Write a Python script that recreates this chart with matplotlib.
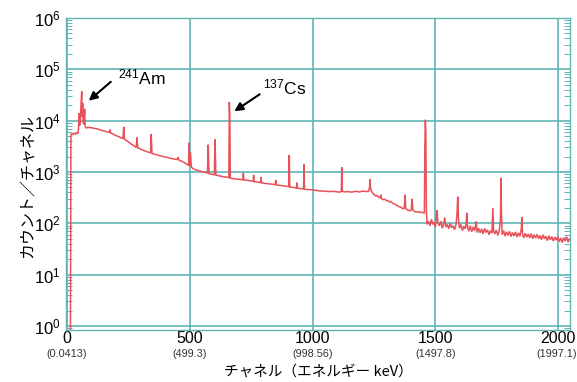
import matplotlib
matplotlib.use("Agg")
import matplotlib.pyplot as plt
from matplotlib.ticker import LogLocator, NullFormatter, FixedLocator
import matplotlib.transforms as mtransforms

plt.rcParams['font.family'] = ['Liberation Sans', 'Noto Sans CJK JP', 'DejaVu Sans']
plt.rcParams['mathtext.fontset'] = 'custom'
plt.rcParams['mathtext.rm'] = 'Liberation Sans'

# ---- data ----
channels = [14, 16, 20, 25, 30, 35, 40, 44,
            47, 49, 51, 54, 57, 60, 62, 64, 66, 69, 72, 74, 78, 85, 95, 105, 115, 125, 135, 145, 155, 165,
            172, 175, 178, 190, 200, 210, 220, 228, 231, 234, 245, 255, 265, 275, 282, 285, 288, 300,
            310, 320, 330, 340, 343, 346, 360, 375, 390, 405, 420, 435, 448, 452, 456, 470, 480, 490,
            495, 497, 499, 503, 506, 515, 530, 545, 560, 572, 575, 578, 590, 600, 603, 606, 620, 635,
            650, 659, 661, 663, 665, 675, 690, 705, 716, 718, 720, 735, 750, 758, 760, 762, 775, 788,
            790, 792, 805, 820, 835, 848, 850, 852, 865, 880, 895, 903, 905, 907, 920, 934, 936, 938,
            950, 963, 965, 967, 980, 995, 1010, 1025, 1040, 1055, 1070, 1085, 1100, 1112, 1117, 1119,
            1121, 1130, 1145, 1160, 1175, 1190, 1205, 1218, 1228, 1232, 1234, 1236, 1240, 1246, 1252,
            1258, 1264, 1270, 1276, 1278, 1281, 1288, 1294, 1300, 1306, 1312, 1318, 1324, 1330, 1336,
            1342, 1348, 1354, 1360, 1366, 1372, 1375, 1377, 1379, 1384, 1390, 1396, 1402, 1405, 1408,
            1414, 1420, 1426, 1432, 1438, 1444, 1450, 1455, 1457, 1459, 1461, 1463, 1466, 1472, 1478,
            1484, 1490, 1496, 1500, 1504, 1507, 1510, 1516, 1522, 1528, 1534, 1538, 1542, 1548, 1554,
            1560, 1566, 1572, 1578, 1584, 1588, 1591, 1594, 1598, 1604, 1610, 1616, 1622, 1626, 1628,
            1631, 1636, 1642, 1648, 1654, 1660, 1666, 1670, 1676, 1682, 1688, 1694, 1700, 1706, 1712,
            1718, 1724, 1730, 1734, 1737, 1742, 1748, 1754, 1760, 1765, 1767, 1769, 1772, 1778, 1784,
            1790, 1796, 1802, 1808, 1814, 1820, 1826, 1832, 1838, 1844, 1850, 1852, 1855, 1860, 1866,
            1872, 1878, 1884, 1890, 1896, 1902, 1908, 1914, 1920, 1926, 1932, 1938, 1944, 1950, 1956,
            1962, 1968, 1974, 1980, 1986, 1992, 1998, 2004, 2010, 2016, 2022, 2028, 2034, 2040, 2046]
counts = [0.5, 5300, 5600, 5400, 5700, 5500, 5800, 5600,
          7000, 14000, 8000, 9000, 20000, 37000, 12000, 22000, 9000, 8500, 17000, 7800, 7200, 7400,
          7300, 7200, 7000, 6900, 6600, 6400, 6200, 6000,
          5900, 6700, 5800, 5400, 5100, 4900, 4600, 4500, 7600, 4400, 4000, 3700, 3400, 3200, 3000,
          4700, 2950, 2800,
          2650, 2550, 2450, 2350, 5500, 2300, 2200, 2100, 2000, 1950, 1850, 1800, 1750, 1950, 1700,
          1600, 1500, 1400,
          1350, 3700, 1300, 2400, 1250, 1150, 1080, 1030, 980, 950, 3400, 930, 900, 880, 4300, 870,
          840, 810,
          790, 780, 23000, 12000, 760, 740, 730, 720, 700, 950, 700, 690, 670, 660, 880, 650, 640, 620,
          800, 620, 600, 590, 580, 570, 700, 560, 550, 540, 530, 520, 2150, 510, 500, 490, 620, 485,
          475, 470, 1440, 465, 455, 450, 440, 430, 425, 420, 415, 420, 410, 405, 420, 1230,
          420, 410, 415, 405, 420, 410, 425, 415, 420, 500, 730, 480, 420, 380, 360,
          340, 345, 320, 310, 360, 300, 290, 295, 275, 280, 262, 265, 250, 240, 235,
          225, 215, 210, 205, 195, 190, 250, 360, 200, 185, 180, 175, 180, 300, 185,
          170, 168, 165, 170, 162, 165, 160, 160, 3000, 10400, 6000, 200, 95, 110, 90,
          120, 95, 105, 85, 140, 180, 100, 90, 110, 80, 100, 130, 85, 95, 78,
          100, 82, 90, 75, 95, 150, 330, 120, 80, 95, 72, 88, 78, 110, 160,
          85, 70, 90, 68, 85, 72, 110, 66, 80, 65, 78, 62, 80, 66, 75,
          60, 72, 64, 200, 70, 62, 74, 58, 72, 120, 770, 150, 60, 72, 56,
          68, 58, 70, 55, 66, 57, 68, 54, 65, 56, 80, 133, 60, 52, 64,
          54, 62, 52, 63, 50, 60, 52, 61, 50, 58, 48, 60, 50, 56, 46,
          57, 48, 55, 45, 54, 47, 55, 44, 52, 42, 53, 45, 55, 43, 50]

x_ticks = [0, 500, 1000, 1500, 2000]
energy_labels = ['(0.0413)', '(499.3)', '(998.56)', '(1497.8)', '(1997.1)']
y_decades = [1, 10, 100, 1000, 10000, 100000, 1000000]
y_labels = ['$\\mathregular{10^{%d}}$' % i for i in range(7)]

teal = '#5fb4b4'
red = '#e8505a'

fig = plt.figure(figsize=(5.77, 3.82), dpi=100)
ax = fig.add_axes([66 / 577, 1 - 330 / 382, (570 - 66) / 577, (330 - 18) / 382])

ax.plot(channels, counts, color=red, lw=1.1, solid_joinstyle='miter')

ax.set_yscale('log')
ax.set_xlim(-4, 2048)
ax.set_ylim(0.835, 1e6)

ax.xaxis.set_major_locator(FixedLocator(x_ticks))
ax.set_xticklabels([str(t) for t in x_ticks], fontsize=11.5)
ax.yaxis.set_major_locator(FixedLocator(y_decades))
ax.set_yticklabels(y_labels, fontsize=12)
ax.yaxis.set_minor_locator(LogLocator(base=10, subs=range(2, 10), numticks=20))
ax.yaxis.set_minor_formatter(NullFormatter())

ax.grid(True, which='major', color=teal, lw=1.2)
ax.set_axisbelow(True)
for s in ax.spines.values():
    s.set_color(teal)
    s.set_linewidth(1.0)

ax.tick_params(axis='both', which='major', length=0, pad=3)
ax.tick_params(axis='y', which='major', pad=4)
ax.tick_params(axis='y', which='minor', direction='in', length=4, width=0.7,
               color=teal, left=True, right=True)
ax.tick_params(axis='x', which='major', pad=1)

trans = mtransforms.blended_transform_factory(ax.transData, ax.transAxes)
for i, (xt, lab) in enumerate(zip(x_ticks, energy_labels)):
    t = trans
    if i == len(x_ticks) - 1:
        t = trans + mtransforms.ScaledTranslation(-2 / 100, 0, fig.dpi_scale_trans)
    ax.text(xt, -0.06, lab, transform=t, ha='center', va='top', fontsize=7.8, color='#333333')

ax.set_xlabel('チャネル（エネルギー keV）', fontsize=10.5, family=['Noto Sans CJK JP', 'DejaVu Sans'],
              labelpad=13)
ax.set_ylabel('カウント／チャネル', fontsize=11.5, family=['Noto Sans CJK JP', 'DejaVu Sans'])
ax.yaxis.set_label_coords(-0.06, 0.46)

# annotations
ax.annotate('', xy=(80, 22500), xytext=(187, 62000),
            arrowprops=dict(arrowstyle='-|>,head_width=0.25,head_length=0.5', color='black', lw=1.5))
ax.text(206, 71000, '$\\mathregular{^{241}}$Am', fontsize=12.5, ha='left', va='center')
ax.annotate('', xy=(672, 14200), xytext=(794, 35000),
            arrowprops=dict(arrowstyle='-|>,head_width=0.25,head_length=0.5', color='black', lw=1.5))
ax.text(800, 44000, '$\\mathregular{^{137}}$Cs', fontsize=12.5, ha='left', va='center')

fig.savefig('out.png', dpi=100)
